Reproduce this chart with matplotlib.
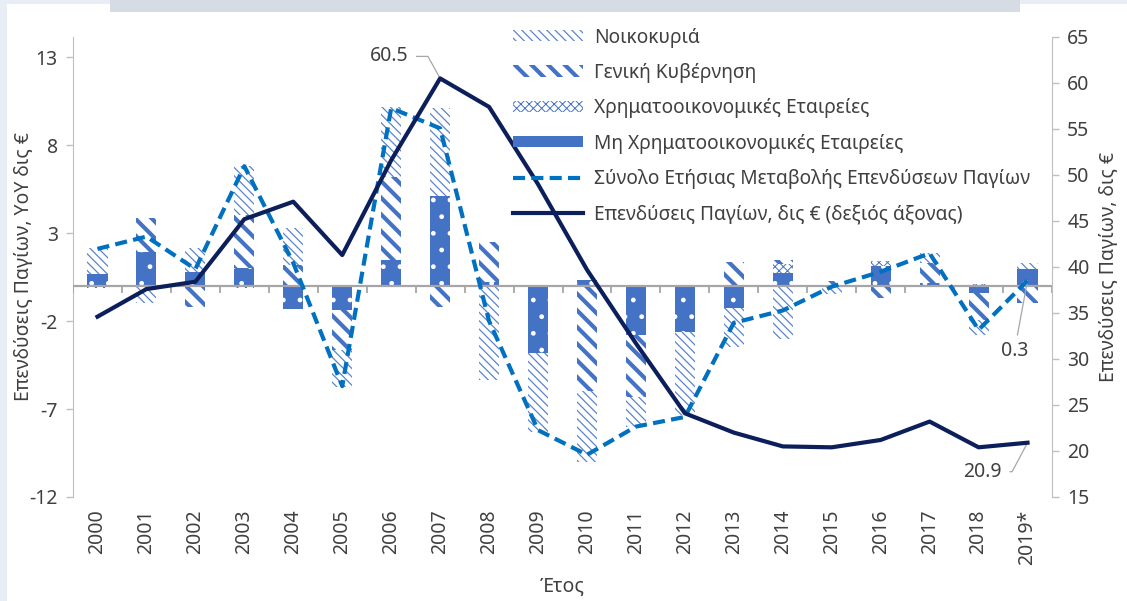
import numpy as np
import matplotlib.pyplot as plt
from matplotlib.patches import Rectangle

years = ['2000', '2001', '2002', '2003', '2004', '2005', '2006', '2007', '2008', '2009',
         '2010', '2011', '2012', '2013', '2014', '2015', '2016', '2017', '2018', '2019*']

# annual change by sector, bn EUR (left axis)
nonfin = [0.7, 1.94, 0.78, 1.03, -1.3, -1.37, 1.47, 5.1, 0.23, -3.82,
          0.33, -2.8, -2.6, -1.27, 0.75, 0.0, 1.12, 0.18, -0.42, 0.94]
fin = [-0.1, 0.0, 0.0, -0.1, 0.0, 0.0, 0.0, 0.0, 0.0, 0.0,
       0.0, 0.0, 0.0, 0.0, 0.5, 0.0, 0.3, 0.0, 0.1, 0.0]
gov = [0.0, 1.9, -1.2, 3.0, 1.2, -2.3, 4.7, -1.2, 2.27, 0.0,
       -6.0, -3.5, 0.0, 1.37, 0.2, 0.3, -0.7, 1.1, -1.5, -1.0]
households = [1.45, -0.98, 1.37, 2.8, 2.1, -2.1, 4.0, 5.0, -5.35, -4.47,
              -4.0, -1.7, -4.75, -2.19, -3.0, -0.45, 0.0, 0.6, -0.9, 0.37]
total_change = [2.1, 2.8, 0.95, 6.8, 1.3, -5.7, 10.1, 8.95, -2.0, -8.2,
                -9.6, -8.0, -7.45, -2.1, -1.4, -0.05, 0.8, 1.85, -2.5, 0.3]

# gross fixed capital formation level, bn EUR (right axis)
gfcf = [34.6, 37.6, 38.4, 45.2, 47.1, 41.3, 51.6, 60.5, 57.4, 49.0,
        39.7, 31.7, 24.1, 22.0, 20.5, 20.4, 21.2, 23.2, 20.4, 20.9]

plt.rcParams['font.family'] = ['Noto Sans', 'DejaVu Sans']
plt.rcParams['axes.unicode_minus'] = False

BLUE = '#4472C4'
DASH = '#0070C0'
NAVY = '#0C1F5B'
GREY = '#A6A6A6'
SPINE = '#BFBFBF'
TXT = '#404040'
W, H = 1127, 601

fig = plt.figure(figsize=(W / 100, H / 100), dpi=100)

# bits of the slide frame around the chart
fig.patches.append(Rectangle((0, 0), 7 / W, 1, transform=fig.transFigure,
                             facecolor='#E9EDF5', lw=0, zorder=0))
fig.patches.append(Rectangle((0, 1 - 4 / H), 1, 4 / H, transform=fig.transFigure,
                             facecolor='#E9EDF5', lw=0, zorder=0))
fig.patches.append(Rectangle((110 / W, 1 - 12 / H), 910 / W, 12 / H,
                             transform=fig.transFigure, facecolor='#D6DCE4', lw=0, zorder=0))

ax = fig.add_axes([73 / W, 104 / H, 979 / W, 460 / H])
ax2 = ax.twinx()

x = np.arange(len(years))
bar_w = 0.41

styles = [
    (nonfin, 'Μη Χρηματοοικονομικές Εταιρείες', dict(facecolor=BLUE, edgecolor='white', hatch='.'), 1.0),
    (fin, 'Χρηματοοικονομικές Εταιρείες', dict(facecolor='white', edgecolor=BLUE, hatch='xxxx'), 0.7),
    (gov, 'Γενική Κυβέρνηση', dict(facecolor='white', edgecolor=BLUE, hatch='\\\\'), 3.0),
    (households, 'Νοικοκυριά', dict(facecolor='white', edgecolor='#5B84CE', hatch='\\\\\\\\'), 0.9),
]

pos_base = np.zeros(len(x))
neg_base = np.zeros(len(x))
bar_handles = {}
for vals, label, st, hlw in styles:
    v = np.array(vals)
    bottom = np.where(v >= 0, pos_base, neg_base)
    with plt.rc_context({'hatch.linewidth': hlw}):
        bars = ax.bar(x, v, bar_w, bottom=bottom, label=label, linewidth=0, zorder=2, **st)
    for p in bars:
        if hasattr(p, 'set_hatch_linewidth'):
            p.set_hatch_linewidth(hlw)
    bar_handles[label] = (bars, hlw)
    pos_base += np.clip(v, 0, None)
    neg_base += np.clip(v, None, 0)

ax.axhline(0, color=GREY, lw=1.6, zorder=3)
ax.vlines(np.arange(-0.5, len(x)), -0.4, 0, color=GREY, lw=1.3, zorder=3)

l_total, = ax.plot(x, total_change, color=DASH, lw=3, ls=(0, (2.9, 1.5)), zorder=4,
                   label='Σύνολο Ετήσιας Μεταβολής Επενδύσεων Παγίων')
l_gfcf, = ax2.plot(x, gfcf, color=NAVY, lw=3, zorder=5,
                   label='Επενδύσεις Παγίων, δις € (δεξιός άξονας)')

ax.set_xlim(-0.5, len(x) - 0.5)
ax.set_ylim(-12, 14.14)
ax.set_yticks([-12, -7, -2, 3, 8, 13])
ax2.set_ylim(15, 65)
ax2.set_yticks(range(15, 70, 5))

ax.set_xticks(x, years, rotation=90)
ax.tick_params(axis='x', length=0, pad=9, labelsize=14, labelcolor=TXT)
for a in (ax, ax2):
    a.tick_params(axis='y', length=5, width=1, color=SPINE, labelsize=14, labelcolor=TXT, pad=6)
    for s in ('top', 'bottom'):
        a.spines[s].set_visible(False)
ax.spines['right'].set_visible(False)
ax.spines['left'].set_color(SPINE)
ax2.spines['left'].set_visible(False)
ax2.spines['right'].set_color(SPINE)

ax.set_ylabel('Επενδύσεις Παγίων, YoY δις €', fontsize=14, color=TXT)
ax.yaxis.set_label_coords(-0.040, 0.5)
ax2.set_ylabel('Επενδύσεις Παγίων, δις €', fontsize=14, color=TXT)
ax2.yaxis.set_label_coords(1.048, 0.5)
ax.set_xlabel('Έτος', fontsize=14, color=TXT)
ax.xaxis.set_label_coords(0.5, -0.172)

# data labels
ann = dict(fontsize=14, color=TXT, textcoords='offset pixels', va='center')
ax2.annotate('60.5', xy=(7, gfcf[7]), xytext=(-32, 22), ha='right',
             arrowprops=dict(arrowstyle='-', color=GREY, lw=0.9, shrinkA=4, shrinkB=0,
                             connectionstyle='angle,angleA=0,angleB=119,rad=0'), **ann)
ax.annotate('0.3', xy=(19, total_change[19]), xytext=(-13, -70), ha='center',
            arrowprops=dict(arrowstyle='-', color=GREY, lw=0.9, shrinkA=2, shrinkB=0), **ann)
ax2.annotate('20.9', xy=(19, gfcf[19]), xytext=(-26, -29), ha='right',
             arrowprops=dict(arrowstyle='-', color=GREY, lw=0.9, shrinkA=4, shrinkB=0,
                             connectionstyle='angle,angleA=0,angleB=62,rad=0'), **ann)

order = ['Νοικοκυριά', 'Γενική Κυβέρνηση', 'Χρηματοοικονομικές Εταιρείες',
         'Μη Χρηματοοικονομικές Εταιρείες']
handles = [bar_handles[k][0] for k in order] + [l_total, l_gfcf]
labels = order + [l_total.get_label(), l_gfcf.get_label()]
leg = fig.legend(handles, labels, loc='upper left', bbox_to_anchor=(513 / W, 1 - 27.5 / H),
                 frameon=False, fontsize=13.8, handlelength=3.65, handleheight=0.52,
                 handletextpad=0.57, labelspacing=0.8, borderpad=0, borderaxespad=0,
                 labelcolor=TXT)
for h, k in zip(leg.legend_handles[:4], order):
    if hasattr(h, 'set_hatch_linewidth'):
        h.set_hatch_linewidth(bar_handles[k][1])

fig.savefig('out.png', dpi=100)
